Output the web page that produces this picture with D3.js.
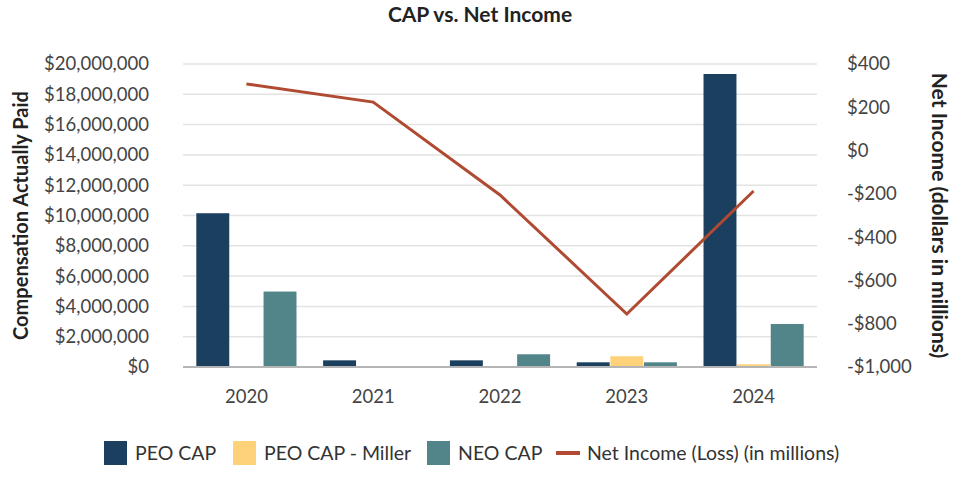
<!DOCTYPE html>
<html>
<head>
<meta charset="utf-8">
<script src="https://cdn.jsdelivr.net/npm/d3@7"></script>
<style>
  body { margin: 0; background: #fff; }
  text { font-family: "Lato", "Open Sans", sans-serif; }
</style>
</head>
<body>
<div class="panel"></div>
<script>
const years = ["2020", "2021", "2022", "2023", "2024"];
const series = ["PEO CAP", "PEO CAP - Miller", "NEO CAP"];
const peoCap = [10150000, 440000, 440000, 310000, 19340000];
const millerCap = [0, 0, 0, 710000, 180000];
const neoCap = [4980000, 0, 840000, 310000, 2840000];
const netIncome = [308, 224, -205, -755, -187];
const leftTicks = d3.range(0, 20000001, 2000000);
const rightTicks = d3.range(-1000, 401, 200);
const colors = ["#1b3f5e", "#fdd27a", "#51858a"];
const lineColor = "#b04a32";

const width = 960;
const height = 480;
const margin = {top: 64, right: 143, bottom: 113, left: 183};

const svg = d3.select(".panel")
  .append("svg")
  .attr("width", width)
  .attr("height", height);

const x0 = d3.scaleBand()
             .domain(years)
             .range([margin.left, width - margin.right]);

const bw = x0.bandwidth();
const x1 = d3.scaleBand()
             .domain(series)
             .range([bw * 0.105, bw * 0.895])
             .paddingInner(0.02);

const yLeft = d3.scaleLinear()
                .domain([0, 20000000])
                .range([height - margin.bottom, margin.top]);

const yRight = d3.scaleLinear()
                 .domain([-1000, 400])
                 .range([height - margin.bottom, margin.top]);

// gridlines
svg.append("g")
   .selectAll("line")
   .data(leftTicks.slice(1))
   .join("line")
   .attr("x1", margin.left)
   .attr("x2", width - margin.right)
   .attr("y1", d => yLeft(d))
   .attr("y2", d => yLeft(d))
   .attr("stroke", "#e3e3e3")
   .attr("stroke-width", 1.5);

// bars
const rows = years.map((y, i) => ({year: y, vals: [peoCap[i], millerCap[i], neoCap[i]]}));

svg.append("g")
   .selectAll("g")
   .data(rows)
   .join("g")
   .attr("transform", d => `translate(${x0(d.year)},0)`)
   .selectAll("rect")
   .data(d => d.vals.map((v, j) => ({key: series[j], v: v, c: colors[j]})))
   .join("rect")
   .attr("x", d => x1(d.key))
   .attr("width", x1.bandwidth())
   .attr("y", d => yLeft(d.v))
   .attr("height", d => yLeft(0) - yLeft(d.v))
   .attr("fill", d => d.c);

// baseline
svg.append("line")
   .attr("x1", margin.left)
   .attr("x2", width - margin.right)
   .attr("y1", yLeft(0))
   .attr("y2", yLeft(0))
   .attr("stroke", "#b5b5b5")
   .attr("stroke-width", 2);

// net income line
const line = d3.line()
  .x((d, i) => x0(years[i]) + bw / 2)
  .y(d => yRight(d));

svg.append("path")
   .datum(netIncome)
   .attr("d", line)
   .attr("fill", "none")
   .attr("stroke", lineColor)
   .attr("stroke-width", 3);

// axes
const fmtLeft = v => "$" + d3.format(",")(v);
const fmtRight = v => (v < 0 ? "-$" : "$") + d3.format(",")(Math.abs(v));

const leftAxis = svg.append("g")
   .attr("transform", `translate(${margin.left - 31},0)`)
   .call(d3.axisLeft(yLeft).tickValues(leftTicks).tickFormat(fmtLeft).tickSize(0));
leftAxis.select(".domain").remove();

const rightAxis = svg.append("g")
   .attr("transform", `translate(${width - margin.right + 27},0)`)
   .call(d3.axisRight(yRight).tickValues(rightTicks).tickFormat(fmtRight).tickSize(0));
rightAxis.select(".domain").remove();

const xAxis = svg.append("g")
   .attr("transform", `translate(0,${height - margin.bottom + 20})`)
   .call(d3.axisBottom(x0).tickSize(0));
xAxis.select(".domain").remove();

svg.selectAll(".tick text")
   .attr("font-size", 18.5)
   .attr("fill", "#444")
   .style("font-family", "Lato, sans-serif");

// titles
svg.append("text")
   .attr("x", width / 2)
   .attr("y", 22)
   .attr("text-anchor", "middle")
   .attr("font-size", 21)
   .attr("font-weight", "bold")
   .attr("fill", "#222")
   .text("CAP vs. Net Income");

svg.append("text")
   .attr("transform", `translate(28,${(margin.top + height - margin.bottom) / 2}) rotate(-90)`)
   .attr("text-anchor", "middle")
   .attr("font-size", 20)
   .attr("font-weight", "bold")
   .attr("fill", "#222")
   .text("Compensation Actually Paid");

svg.append("text")
   .attr("transform", `translate(932,${(margin.top + height - margin.bottom) / 2}) rotate(90)`)
   .attr("text-anchor", "middle")
   .attr("font-size", 21)
   .attr("font-weight", "bold")
   .attr("fill", "#222")
   .text("Net Income (dollars in millions)");

// legend
const legendItems = [
  {label: series[0], color: colors[0], x: 104, type: "box"},
  {label: series[1], color: colors[1], x: 233, type: "box"},
  {label: series[2], color: colors[2], x: 427, type: "box"},
  {label: "Net Income (Loss) (in millions)", color: lineColor, x: 556, type: "line"}
];

const lg = svg.append("g")
   .selectAll("g")
   .data(legendItems)
   .join("g")
   .attr("transform", d => `translate(${d.x},453)`);

lg.filter(d => d.type === "box")
  .append("rect")
  .attr("x", 0).attr("y", -12)
  .attr("width", 23).attr("height", 24)
  .attr("fill", d => d.color);

lg.filter(d => d.type === "line")
  .append("rect")
  .attr("x", 0).attr("y", -2)
  .attr("width", 24).attr("height", 4)
  .attr("fill", d => d.color);

lg.append("text")
  .attr("x", 31)
  .attr("y", 7)
  .attr("font-size", 19.5)
  .attr("fill", "#333")
  .text(d => d.label);
</script>
</body>
</html>
